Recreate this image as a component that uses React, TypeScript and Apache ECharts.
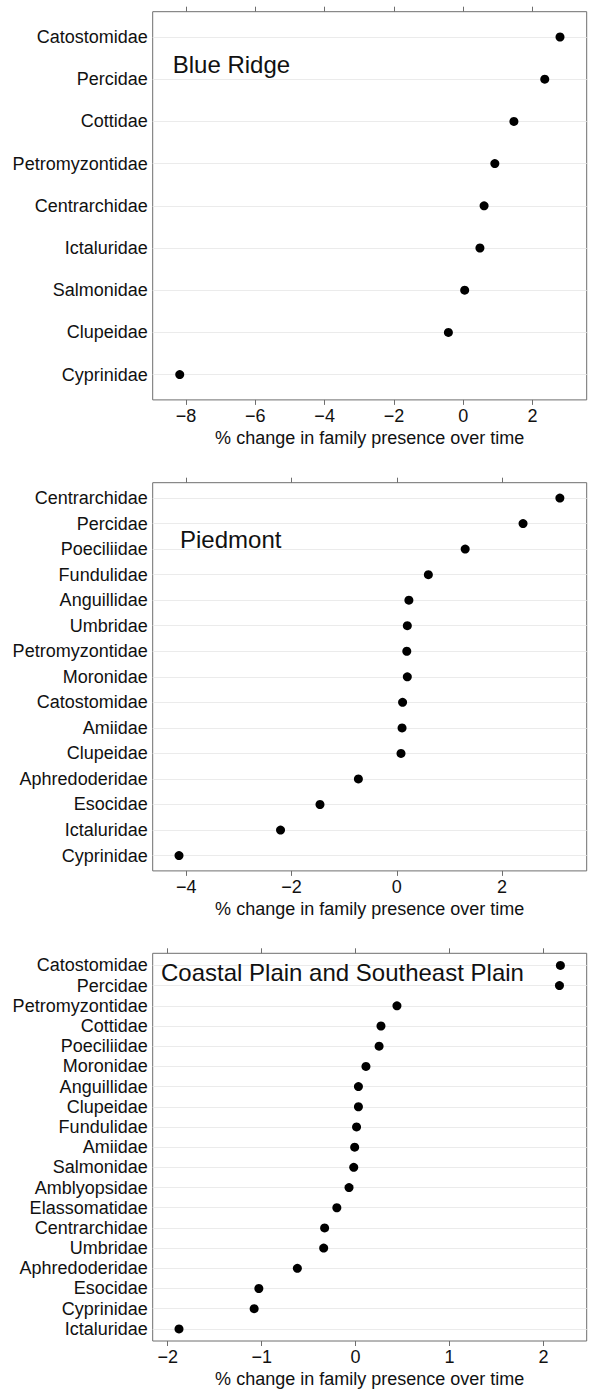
import React, { useEffect, useRef } from "react";
import * as echarts from "echarts";

// Blue Ridge (top to bottom)
const BR_FAMILIES = ["Catostomidae", "Percidae", "Cottidae", "Petromyzontidae", "Centrarchidae", "Ictaluridae", "Salmonidae", "Clupeidae", "Cyprinidae"];
const BR_VALUES = [2.79, 2.35, 1.46, 0.91, 0.6, 0.48, 0.04, -0.43, -8.18];
const BR_TICKS = [-8, -6, -4, -2, 0, 2];
const BR_RANGE = [-8.96, 3.56];

// Piedmont
const PD_FAMILIES = ["Centrarchidae", "Percidae", "Poeciliidae", "Fundulidae", "Anguillidae", "Umbridae", "Petromyzontidae", "Moronidae", "Catostomidae", "Amiidae", "Clupeidae", "Aphredoderidae", "Esocidae", "Ictaluridae", "Cyprinidae"];
const PD_VALUES = [3.1, 2.4, 1.3, 0.6, 0.23, 0.2, 0.19, 0.2, 0.11, 0.1, 0.08, -0.73, -1.46, -2.21, -4.14];
const PD_TICKS = [-4, -2, 0, 2];
const PD_RANGE = [-4.64, 3.61];

// Coastal Plain and Southeast Plain
const CP_FAMILIES = ["Catostomidae", "Percidae", "Petromyzontidae", "Cottidae", "Poeciliidae", "Moronidae", "Anguillidae", "Clupeidae", "Fundulidae", "Amiidae", "Salmonidae", "Amblyopsidae", "Elassomatidae", "Centrarchidae", "Umbridae", "Aphredoderidae", "Esocidae", "Cyprinidae", "Ictaluridae"];
const CP_VALUES = [2.18, 2.17, 0.44, 0.27, 0.25, 0.11, 0.03, 0.03, 0.01, -0.01, -0.02, -0.07, -0.2, -0.33, -0.34, -0.62, -1.03, -1.08, -1.88];
const CP_TICKS = [-2, -1, 0, 1, 2];
const CP_RANGE = [-2.16, 2.46];

const PANEL_TITLES = ["Blue Ridge", "Piedmont", "Coastal Plain and Southeast Plain"];
const X_TITLE = "% change in family presence over time";

const FONT = "'Liberation Sans', Arial, Helvetica, sans-serif";
const TEXT = "#111111";
const FRAME = "#6e6e6e";

export default function App() {
  const ref = useRef<HTMLDivElement>(null);

  useEffect(() => {
    if (!ref.current) return;
    const chart = echarts.init(ref.current, null, { renderer: "svg" });

    const panels = [
      { fam: BR_FAMILIES, val: BR_VALUES, ticks: BR_TICKS, range: BR_RANGE, top: 11.7, title: PANEL_TITLES[0], tx: 172.7, ty: 64 },
      { fam: PD_FAMILIES, val: PD_VALUES, ticks: PD_TICKS, range: PD_RANGE, top: 482.7, title: PANEL_TITLES[1], tx: 180, ty: 539 },
      { fam: CP_FAMILIES, val: CP_VALUES, ticks: CP_TICKS, range: CP_RANGE, top: 953.3, title: PANEL_TITLES[2], tx: 161, ty: 972.5 },
    ];

    const fmt = (v: number) => (v < 0 ? "\u2212" + Math.abs(v) : String(v));

    const grid: any[] = [];
    const xAxis: any[] = [];
    const yAxis: any[] = [];
    const series: any[] = [];
    const graphic: any[] = [];

    panels.forEach((p, k) => {
      grid.push({
        left: 152.7,
        top: p.top,
        width: 434,
        height: 388.2,
        show: true,
        borderColor: FRAME,
        borderWidth: 1,
        backgroundColor: "transparent",
        containLabel: false,
      });
      // bottom axis
      xAxis.push({
        type: "value",
        gridIndex: k,
        position: "bottom",
        min: p.range[0],
        max: p.range[1],
        axisLine: { show: false, onZero: false },
        splitLine: { show: false },
        axisTick: { show: true, inside: false, length: 5, customValues: p.ticks, lineStyle: { color: FRAME, width: 1 } },
        axisLabel: {
          show: true,
          customValues: p.ticks,
          formatter: fmt,
          fontSize: 18,
          fontFamily: FONT,
          color: TEXT,
          margin: 7,
        },
        name: X_TITLE,
        nameLocation: "middle",
        nameGap: 29,
        nameTextStyle: { fontSize: 18, fontFamily: FONT, color: TEXT, verticalAlign: "top" },
      });
      // top axis (ticks only)
      xAxis.push({
        type: "value",
        gridIndex: k,
        position: "top",
        min: p.range[0],
        max: p.range[1],
        axisLine: { show: false, onZero: false },
        splitLine: { show: false },
        axisTick: { show: true, inside: false, length: 5, customValues: p.ticks, lineStyle: { color: FRAME, width: 1 } },
        axisLabel: { show: false },
      });
      const n = p.fam.length;
      const idx = p.fam.map((_, i) => i);
      yAxis.push({
        type: "value",
        gridIndex: k,
        inverse: true,
        min: -0.6,
        max: n - 0.4,
        axisLine: { show: false, onZero: false },
        axisTick: { show: false },
        splitLine: { show: false },
        axisLabel: {
          show: true,
          customValues: idx,
          formatter: (v: number) => p.fam[Math.round(v)] ?? "",
          fontSize: 18,
          fontFamily: FONT,
          color: TEXT,
          margin: 5,
        },
      });
      // gridlines
      series.push({
        type: "scatter",
        xAxisIndex: 2 * k,
        yAxisIndex: k,
        data: [],
        symbolSize: 0,
        silent: true,
        z: 1,
        markLine: {
          silent: true,
          symbol: "none",
          z: 1,
          label: { show: false },
          lineStyle: { color: "#ebebeb", width: 1, type: "solid" },
          emphasis: { disabled: true },
          data: idx.map((i) => ({ yAxis: i })),
        },
      });
      // dots
      series.push({
        type: "scatter",
        xAxisIndex: 2 * k,
        yAxisIndex: k,
        z: 3,
        symbol: "circle",
        symbolSize: 9,
        itemStyle: { color: "#000000", opacity: 1 },
        data: p.val.map((v, i) => [v, i]),
      });
      graphic.push({
        type: "text",
        x: p.tx,
        y: p.ty,
        z: 10,
        style: {
          text: p.title,
          fontSize: 24,
          fontFamily: FONT,
          fill: TEXT,
          verticalAlign: "middle",
          align: "left",
        },
      });
    });

    chart.setOption({
      animation: false,
      backgroundColor: "#ffffff",
      grid,
      xAxis,
      yAxis,
      series,
      graphic,
    });

    return () => chart.dispose();
  }, []);

  return (
    <div
      ref={ref}
      style={{ position: "absolute", left: 0, top: 0, width: 590, height: 1389 }}
    />
  );
}
